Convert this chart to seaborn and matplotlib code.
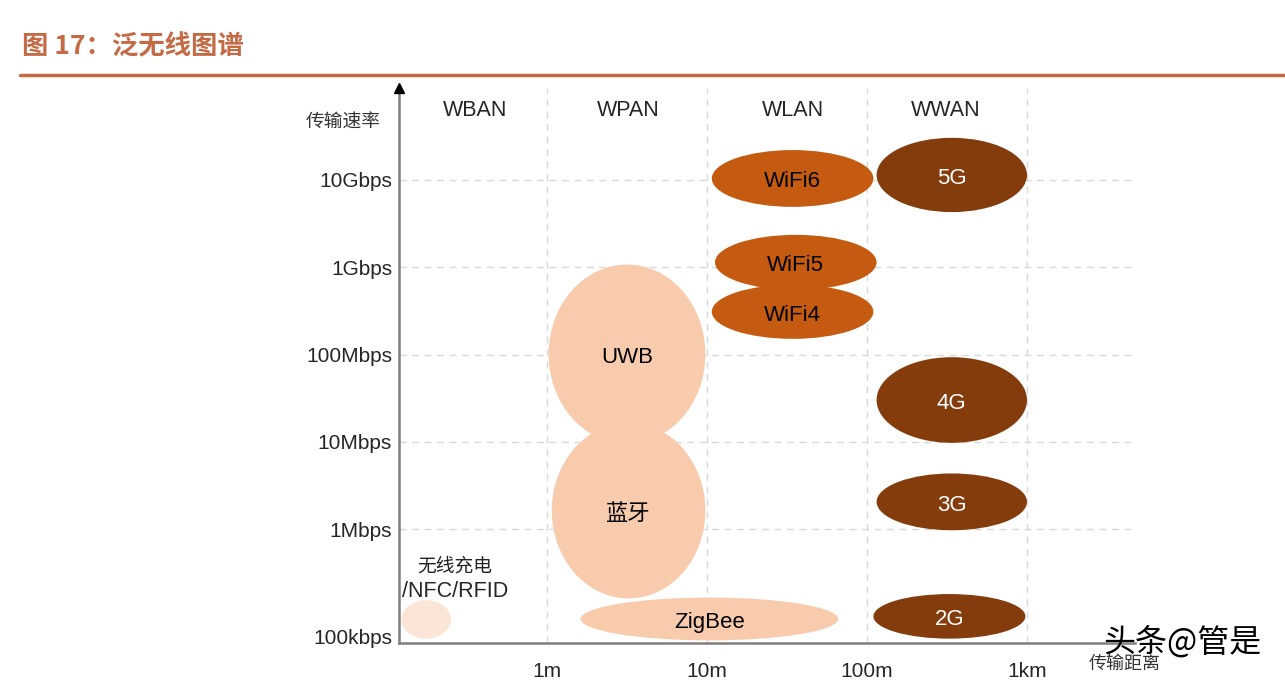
import matplotlib
matplotlib.use("Agg")
import matplotlib.pyplot as plt
import seaborn as sns
import pandas as pd
from matplotlib.patches import Ellipse
from matplotlib.lines import Line2D

# === Dati (x = log10 distanza in m, y = log10 velocità in bps) ===
techs = ["无线充电", "UWB", "蓝牙", "ZigBee", "WiFi6", "WiFi5", "WiFi4", "5G", "4G", "3G", "2G"]
groups = ["near", "pan", "pan", "pan", "wlan", "wlan", "wlan", "wwan", "wwan", "wwan", "wwan"]
dist_lo = [-0.91, 0.01, 0.03, 0.21, 1.03, 1.05, 1.03, 2.06, 2.06, 2.06, 2.04]
dist_hi = [-0.60, 0.99, 0.99, 1.82, 2.04, 2.06, 2.04, 3.00, 3.00, 3.00, 2.99]
rate_lo = [4.75, 6.98, 5.21, 4.73, 9.69, 8.74, 8.18, 9.63, 6.99, 5.99, 4.75]
rate_hi = [5.19, 9.03, 7.22, 5.22, 10.34, 9.37, 8.80, 10.48, 7.97, 6.64, 5.26]

bands = ["WBAN", "WPAN", "WLAN", "WWAN"]
band_x = [-0.45, 0.51, 1.54, 2.49]

x_ticks = [0, 1, 2, 3]
x_labels = ["1m", "10m", "100m", "1km"]
y_ticks = [10, 9, 8, 7, 6, 4.78]
y_labels = ["10Gbps", "1Gbps", "100Mbps", "10Mbps", "1Mbps", "100kbps"]

df = pd.DataFrame({"tech": techs, "group": groups,
                   "x0": dist_lo, "x1": dist_hi, "y0": rate_lo, "y1": rate_hi})

fill = {"near": "#FBE5D6", "pan": "#F8CBAD", "wlan": "#C55A11", "wwan": "#843C0C"}
txt_col = {"near": "black", "pan": "black", "wlan": "black", "wwan": "white"}
brand = "#C46A45"

# === Stile ===
sns.set_theme(style="white")
plt.rcParams["font.family"] = ["Liberation Sans", "Noto Sans CJK SC", "DejaVu Sans"]
cjk = ["Noto Sans CJK SC", "DejaVu Sans"]

fig = plt.figure(figsize=(12.85, 6.82), dpi=100)
ax = fig.add_axes([399 / 1285, 1 - 643 / 682, (1135 - 399) / 1285, (643 - 88) / 682])
ax.set_xlim(-0.925, 3.675)
ax.set_ylim(4.70, 11.05)

# griglia tratteggiata
for xv in x_ticks:
    ax.axvline(xv, color="#D9D9D9", lw=1, ls=(0, (5, 4)), zorder=0)
for yv in y_ticks[:-1]:
    ax.axhline(yv, color="#D9D9D9", lw=1, ls=(0, (5, 4)), zorder=0)

# ellissi
for _, r in df.iterrows():
    cx, cy = (r.x0 + r.x1) / 2, (r.y0 + r.y1) / 2
    ax.add_patch(Ellipse((cx, cy), r.x1 - r.x0, r.y1 - r.y0,
                         facecolor=fill[r.group], edgecolor="none", zorder=2))
    if r.tech != "无线充电":
        ax.text(cx, cy - 0.04, r.tech, ha="center", va="center", fontsize=16,
                color=txt_col[r.group], family=["Liberation Sans", "Noto Sans CJK SC"], zorder=3)

ax.text(-0.575, 5.58, "无线充电", ha="center", va="center", fontsize=13.5,
        family=cjk, color="#222222", fontweight="light")
ax.text(-0.575, 5.29, "/NFC/RFID", ha="center", va="center", fontsize=15.5)

for name, bx in zip(bands, band_x):
    ax.text(bx, 10.79, name, ha="center", va="center", fontsize=15.5)

ax.set_xticks(x_ticks)
ax.set_xticklabels(x_labels, fontsize=15)
ax.set_yticks(y_ticks)
ax.set_yticklabels(y_labels, fontsize=15)
ax.tick_params(axis="x", length=0, pad=14)
ax.tick_params(axis="y", length=0, pad=5)

sns.despine(ax=ax)
for s in ["left", "bottom"]:
    ax.spines[s].set_color("#808080")
    ax.spines[s].set_linewidth(1.8)
ax.plot(0, 1, marker="^", color="black", markersize=7, transform=ax.transAxes,
        clip_on=False, zorder=5)

ax.text(-1.275, 10.66, "传输速率", ha="center", va="center", fontsize=13.5,
        family=cjk, color="#333333", clip_on=False)
ax.text(3.61, 4.46, "传输距离", ha="center", va="center", fontsize=13,
        family=cjk, color="#333333", clip_on=False)

# titolo
fig.text(22 / 1285, 1 - 47 / 682, "图 17：泛无线图谱", fontsize=19, fontweight="bold",
         color=brand, family=cjk, ha="left", va="center")
fig.add_artist(Line2D([20 / 1285, 1], [1 - 75 / 682] * 2, color=brand, lw=2.5))

# watermark
fig.text(1182 / 1285, 1 - 642 / 682, "头条@管是", fontsize=23, family=cjk,
         color="black", ha="center", va="center")

fig.savefig("out.png", dpi=100)
